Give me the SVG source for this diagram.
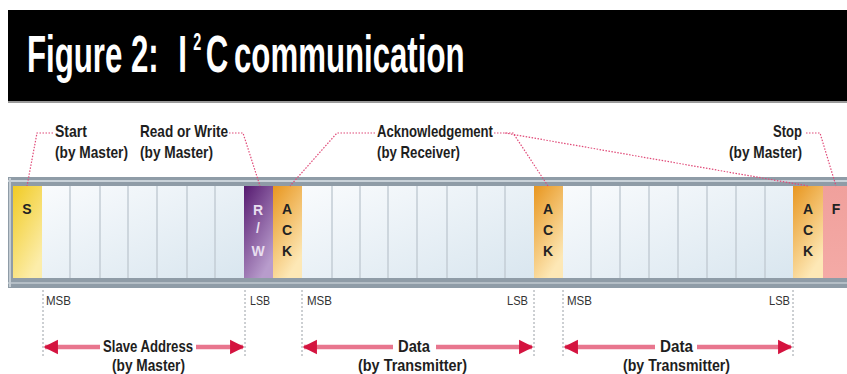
<svg xmlns="http://www.w3.org/2000/svg" width="847" height="374" viewBox="0 0 847 374">
<defs>
<linearGradient id="gW" x1="0" y1="0" x2="1" y2="1"><stop offset="0" stop-color="#f9fbfd"/><stop offset="1" stop-color="#d9e6ef"/></linearGradient>
<linearGradient id="gS" x1="0" y1="0" x2="0.6" y2="1"><stop offset="0" stop-color="#f1cb24"/><stop offset="1" stop-color="#fcedaa"/></linearGradient>
<linearGradient id="gRW" x1="0" y1="0" x2="0.6" y2="1"><stop offset="0" stop-color="#561a70"/><stop offset="1" stop-color="#b89ccc"/></linearGradient>
<linearGradient id="gA" x1="0" y1="0" x2="0.5" y2="1"><stop offset="0" stop-color="#e8961f"/><stop offset="1" stop-color="#fde8b6"/></linearGradient>
<linearGradient id="gF" x1="0" y1="0" x2="0" y2="1"><stop offset="0" stop-color="#f0a09c"/><stop offset="1" stop-color="#f4aaa6"/></linearGradient>
<marker id="ah" viewBox="0 0 10 10" refX="9" refY="5" markerWidth="3.2" markerHeight="3.6" orient="auto-start-reverse" markerUnits="strokeWidth"><path d="M0,0 L10,5 L0,10 Z" fill="#d4133f"/></marker>
</defs>
<style>
.lbl{font-family:"Liberation Sans",Arial,sans-serif;font-weight:bold;font-size:17px;fill:#1e1e1e}
.sm{font-family:"Liberation Sans",Arial,sans-serif;font-size:12px;fill:#333}
.bit{font-family:"Liberation Sans",Arial,sans-serif;font-weight:bold;font-size:14px;fill:#222;text-anchor:middle}
.rw{fill:#e8deef}
.ttl{font-family:"Liberation Sans",Arial,sans-serif;font-weight:bold;font-size:52px;fill:#fff}
.sep{stroke:#c3ccd4;stroke-width:1.5}
.dot{fill:none;stroke:#e04a78;stroke-width:1.2;stroke-dasharray:1.5 1.5}
.vd{stroke:#9aa0a6;stroke-width:1;stroke-dasharray:2 2}
.arr{stroke:#e8768e;stroke-width:4.5}
.l{marker-start:url(#ah)}
.r{marker-end:url(#ah)}
</style>
<g id="title">
<rect x="8" y="10" width="839" height="91" fill="#000"/>
<rect x="8" y="101" width="839" height="2" fill="#9a9a9a"/>
<text class="ttl" transform="translate(27,72) scale(0.6,1)" x="0" y="0"><tspan x="0">Figure 2:</tspan><tspan x="252">I</tspan><tspan x="277" dy="-22" font-size="24">2</tspan><tspan x="298" dy="22">C</tspan><tspan x="345">communication</tspan></text>
</g>
<g id="frame">
<rect x="8" y="177" width="839" height="111" fill="#8f9ca7"/>
<rect x="8" y="180" width="839" height="2" fill="#c9d2d9"/>
<rect x="8" y="282" width="839" height="2" fill="#b4bec6"/>
<rect x="9" y="178" width="2" height="109" fill="#c3ccd3"/>
</g>
<g id="cells">
<rect x="13" y="186" width="29" height="92" fill="url(#gS)"/>
<rect x="42" y="186" width="202" height="92" fill="url(#gW)"/>
<rect x="244" y="186" width="29" height="92" fill="url(#gRW)"/>
<rect x="273" y="186" width="29" height="92" fill="url(#gA)"/>
<rect x="302" y="186" width="232" height="92" fill="url(#gW)"/>
<rect x="534" y="186" width="29" height="92" fill="url(#gA)"/>
<rect x="563" y="186" width="230" height="92" fill="url(#gW)"/>
<rect x="793" y="186" width="30" height="92" fill="url(#gA)"/>
<rect x="823" y="186" width="24" height="92" fill="url(#gF)"/>
<g class="sep">
<line x1="70" y1="186" x2="70" y2="278"/><line x1="100" y1="186" x2="100" y2="278"/><line x1="128" y1="186" x2="128" y2="278"/><line x1="157" y1="186" x2="157" y2="278"/><line x1="187" y1="186" x2="187" y2="278"/><line x1="215" y1="186" x2="215" y2="278"/>
<line x1="332" y1="186" x2="332" y2="278"/><line x1="360" y1="186" x2="360" y2="278"/><line x1="388" y1="186" x2="388" y2="278"/><line x1="417" y1="186" x2="417" y2="278"/><line x1="447" y1="186" x2="447" y2="278"/><line x1="477" y1="186" x2="477" y2="278"/><line x1="505" y1="186" x2="505" y2="278"/>
<line x1="591" y1="186" x2="591" y2="278"/><line x1="620" y1="186" x2="620" y2="278"/><line x1="649" y1="186" x2="649" y2="278"/><line x1="678" y1="186" x2="678" y2="278"/><line x1="707" y1="186" x2="707" y2="278"/><line x1="736" y1="186" x2="736" y2="278"/><line x1="765" y1="186" x2="765" y2="278"/>
</g>
<text class="bit" x="27" y="214">S</text>
<text class="bit rw" x="258" y="215">R</text>
<text class="bit rw" x="258" y="233">/</text>
<text class="bit rw" x="258" y="256">W</text>
<text class="bit" x="287" y="214">A</text><text class="bit" x="287" y="235">C</text><text class="bit" x="287" y="256">K</text>
<text class="bit" x="548" y="214">A</text><text class="bit" x="548" y="235">C</text><text class="bit" x="548" y="256">K</text>
<text class="bit" x="808" y="214">A</text><text class="bit" x="808" y="235">C</text><text class="bit" x="808" y="256">K</text>
<text class="bit" x="836" y="214">F</text>
</g>
<g id="connectors">
<polyline class="dot" points="53,133 37,133 27,186"/>
<polyline class="dot" points="229,133 243,133 260,186"/>
<polyline class="dot" points="375,133 337,133 290,186"/>
<polyline class="dot" points="494,133 513,133 548,186"/>
<polyline class="dot" points="505,133 808,186"/>
<polyline class="dot" points="806,133 820,133 836,186"/>
<line class="vd" x1="43" y1="290" x2="43" y2="356"/>
<line class="vd" x1="245" y1="290" x2="245" y2="356"/>
<line class="vd" x1="302" y1="290" x2="302" y2="356"/>
<line class="vd" x1="534" y1="290" x2="534" y2="356"/>
<line class="vd" x1="563" y1="290" x2="563" y2="356"/>
<line class="vd" x1="793" y1="290" x2="793" y2="356"/>
<line class="arr l" x1="45" y1="347" x2="100" y2="347"/>
<line class="arr r" x1="196" y1="347" x2="243" y2="347"/>
<line class="arr l" x1="304" y1="347" x2="393" y2="347"/>
<line class="arr r" x1="436" y1="347" x2="532" y2="347"/>
<line class="arr l" x1="565" y1="347" x2="655" y2="347"/>
<line class="arr r" x1="697" y1="347" x2="791" y2="347"/>
</g>
<g id="labels">
<text class="lbl" x="55" y="137" textLength="32" lengthAdjust="spacingAndGlyphs">Start</text>
<text class="lbl" x="55" y="158" textLength="73" lengthAdjust="spacingAndGlyphs">(by Master)</text>
<text class="lbl" x="140" y="137" textLength="88" lengthAdjust="spacingAndGlyphs">Read or Write</text>
<text class="lbl" x="140" y="158" textLength="73" lengthAdjust="spacingAndGlyphs">(by Master)</text>
<text class="lbl" x="377" y="137" textLength="116" lengthAdjust="spacingAndGlyphs">Acknowledgement</text>
<text class="lbl" x="377" y="158" textLength="83" lengthAdjust="spacingAndGlyphs">(by Receiver)</text>
<text class="lbl" x="773" y="137" textLength="29" lengthAdjust="spacingAndGlyphs">Stop</text>
<text class="lbl" x="729" y="158" textLength="73" lengthAdjust="spacingAndGlyphs">(by Master)</text>
<text class="sm" x="46" y="305" textLength="25" lengthAdjust="spacingAndGlyphs">MSB</text>
<text class="sm" x="250" y="305" textLength="20" lengthAdjust="spacingAndGlyphs">LSB</text>
<text class="sm" x="307" y="305" textLength="25" lengthAdjust="spacingAndGlyphs">MSB</text>
<text class="sm" x="507" y="305" textLength="21" lengthAdjust="spacingAndGlyphs">LSB</text>
<text class="sm" x="567" y="305" textLength="25" lengthAdjust="spacingAndGlyphs">MSB</text>
<text class="sm" x="769" y="305" textLength="21" lengthAdjust="spacingAndGlyphs">LSB</text>
<text class="lbl" x="103" y="352" textLength="90" lengthAdjust="spacingAndGlyphs">Slave Address</text>
<text class="lbl" x="112" y="371" textLength="73" lengthAdjust="spacingAndGlyphs">(by Master)</text>
<text class="lbl" x="398" y="352" textLength="32" lengthAdjust="spacingAndGlyphs">Data</text>
<text class="lbl" x="358" y="371" textLength="109" lengthAdjust="spacingAndGlyphs">(by Transmitter)</text>
<text class="lbl" x="660" y="352" textLength="33" lengthAdjust="spacingAndGlyphs">Data</text>
<text class="lbl" x="623" y="371" textLength="107" lengthAdjust="spacingAndGlyphs">(by Transmitter)</text>
</g>
</svg>
